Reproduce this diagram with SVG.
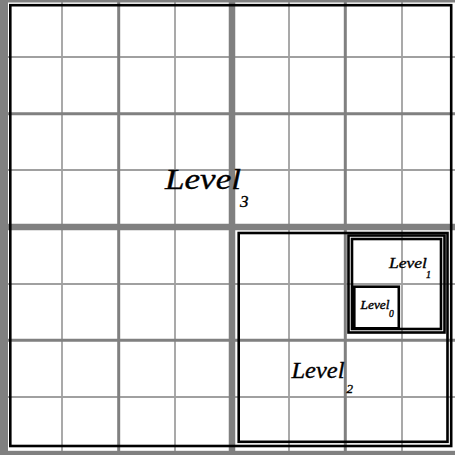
<svg xmlns="http://www.w3.org/2000/svg" width="455" height="459" viewBox="0 0 455 459">
<style>
.thin{stroke:#a0a0a0;stroke-width:1.8;fill:none}
.mid{stroke:#808080;stroke-width:3;fill:none}
.thick{stroke:#808080;stroke-width:6.5;fill:none}
.frame{fill:#808080}
.box{fill:none;stroke:#000;stroke-width:2.6}
.lbl{font-family:"Liberation Serif","DejaVu Serif",serif;font-style:italic;fill:#000;stroke:#000;stroke-width:0.35}
</style>
<rect width="455" height="459" fill="#fff"/>
<g id="grid">
<path class="thin" d="M62 0V455M175 0V455M289 0V455M402 0V455M0 57H455M0 170H455M0 284H455M0 397H455"/>
<path class="mid" d="M118.7 0V455M345.3 0V455M0 113.7H455M0 340.3H455"/>
<path class="thick" d="M232 0V455M0 227H455"/>
<rect class="frame" x="0" y="0" width="8" height="455"/>
<rect class="frame" x="0" y="0" width="455" height="2.5"/>
<rect class="frame" x="0" y="450.8" width="455" height="4.2"/>
</g>
<g id="level3">
<rect class="box" x="10.3" y="5.2" width="440.9" height="440.8"/>
<text class="lbl" x="165" y="189" font-size="30" textLength="76" lengthAdjust="spacingAndGlyphs">Level</text>
<text class="lbl" x="240" y="207" font-size="17">3</text>
</g>
<g id="level2">
<rect class="box" x="238.7" y="233" width="208.8" height="208.8"/>
<text class="lbl" x="291.5" y="378" font-size="23" textLength="53" lengthAdjust="spacingAndGlyphs">Level</text>
<text class="lbl" x="346.5" y="392.5" font-size="13">2</text>
</g>
<g id="level1">
<rect class="box" x="348.5" y="235.5" width="96" height="97"/>
<rect class="box" x="352" y="239" width="89" height="90"/>
<text class="lbl" x="389" y="268" font-size="15" textLength="38" lengthAdjust="spacingAndGlyphs">Level</text>
<text class="lbl" x="426" y="277.5" font-size="10">1</text>
</g>
<g id="level0">
<rect class="box" x="354.3" y="286.7" width="44.5" height="41.6"/>
<text class="lbl" x="360.5" y="308.5" font-size="11.5" textLength="29" lengthAdjust="spacingAndGlyphs">Level</text>
<text class="lbl" x="389" y="316.7" font-size="9.5">0</text>
</g>
</svg>
